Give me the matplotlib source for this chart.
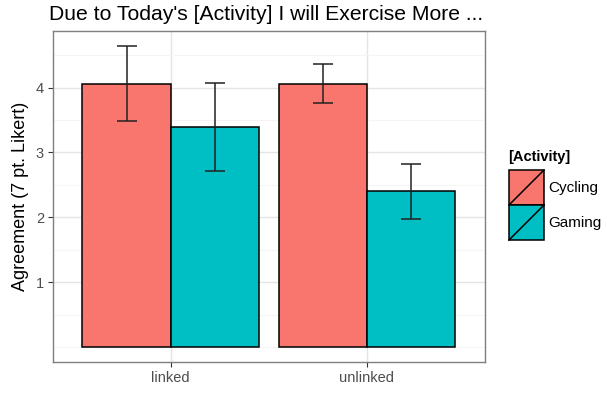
import numpy as np
import matplotlib.pyplot as plt
from matplotlib.patches import Rectangle
from matplotlib.lines import Line2D

plt.rcParams["font.family"] = ["Liberation Sans", "DejaVu Sans"]

groups = ["linked", "unlinked"]
activities = ["Cycling", "Gaming"]
colors = ["#F8766D", "#00BFC4"]
means = {
    "Cycling": [4.06, 4.06],
    "Gaming": [3.39, 2.40],
}
errs = {
    "Cycling": [0.58, 0.30],
    "Gaming": [0.68, 0.42],
}

fig = plt.figure(figsize=(6.07, 3.93), dpi=100)
ax = fig.add_axes([0.0873, 0.0789, 0.711, 0.842])

x = np.arange(1, len(groups) + 1)
w = 0.45
for i, act in enumerate(activities):
    pos = x + (i - 0.5) * w
    ax.bar(pos, means[act], width=w, color=colors[i], edgecolor="black",
           linewidth=1.1, zorder=3)
    ax.errorbar(pos, means[act], yerr=errs[act], fmt="none", ecolor="#222222",
                elinewidth=1.1, capsize=7, capthick=1.1, zorder=4)

ax.set_xlim(0.4, 2.6)
ax.set_ylim(-0.232, 4.87)
ax.set_xticks(x)
ax.set_xticklabels(groups)
ax.set_yticks([1, 2, 3, 4])
ax.set_yticks([0, 0.5, 1.5, 2.5, 3.5, 4.5], minor=True)
ax.set_xticks([], minor=True)
ax.grid(True, which="major", color="#E5E5E5", linewidth=1.0, zorder=0)
ax.grid(True, which="minor", axis="y", color="#F5F5F5", linewidth=0.8, zorder=0)
ax.tick_params(which="major", length=3.5, color="#333333", labelcolor="#4D4D4D",
               labelsize=10.5, width=0.8, pad=3)
ax.tick_params(which="minor", length=0)
for s in ax.spines.values():
    s.set_color("#7F7F7F")
    s.set_linewidth(1.0)

ax.set_ylabel("Agreement (7 pt. Likert)", fontsize=13, labelpad=5)
fig.text(266 / 607, 1 - 15 / 393, "Due to Today's [Activity] I will Exercise More ...",
         fontsize=15.2, va="center", ha="center")

# legend drawn by hand to mimic ggplot keys with the diagonal
fig.text(508 / 607, 1 - 157 / 393, "[Activity]", fontsize=10.5,
         fontweight="bold", va="center", ha="left")
kx, kw, kh = 509 / 607, 35 / 607, 35 / 393
for i, act in enumerate(activities):
    ky = 1 - (170 + (i + 1) * 35) / 393
    fig.add_artist(Rectangle((kx, ky), kw, kh, transform=fig.transFigure,
                             facecolor=colors[i], edgecolor="black", linewidth=1.1))
    fig.add_artist(Line2D([kx, kx + kw], [ky, ky + kh], transform=fig.transFigure,
                          color="black", linewidth=1.1))
    fig.text(kx + kw + 4 / 607, ky + kh / 2, act, fontsize=11,
             va="center", ha="left")

fig.savefig("out.png", dpi=100)
